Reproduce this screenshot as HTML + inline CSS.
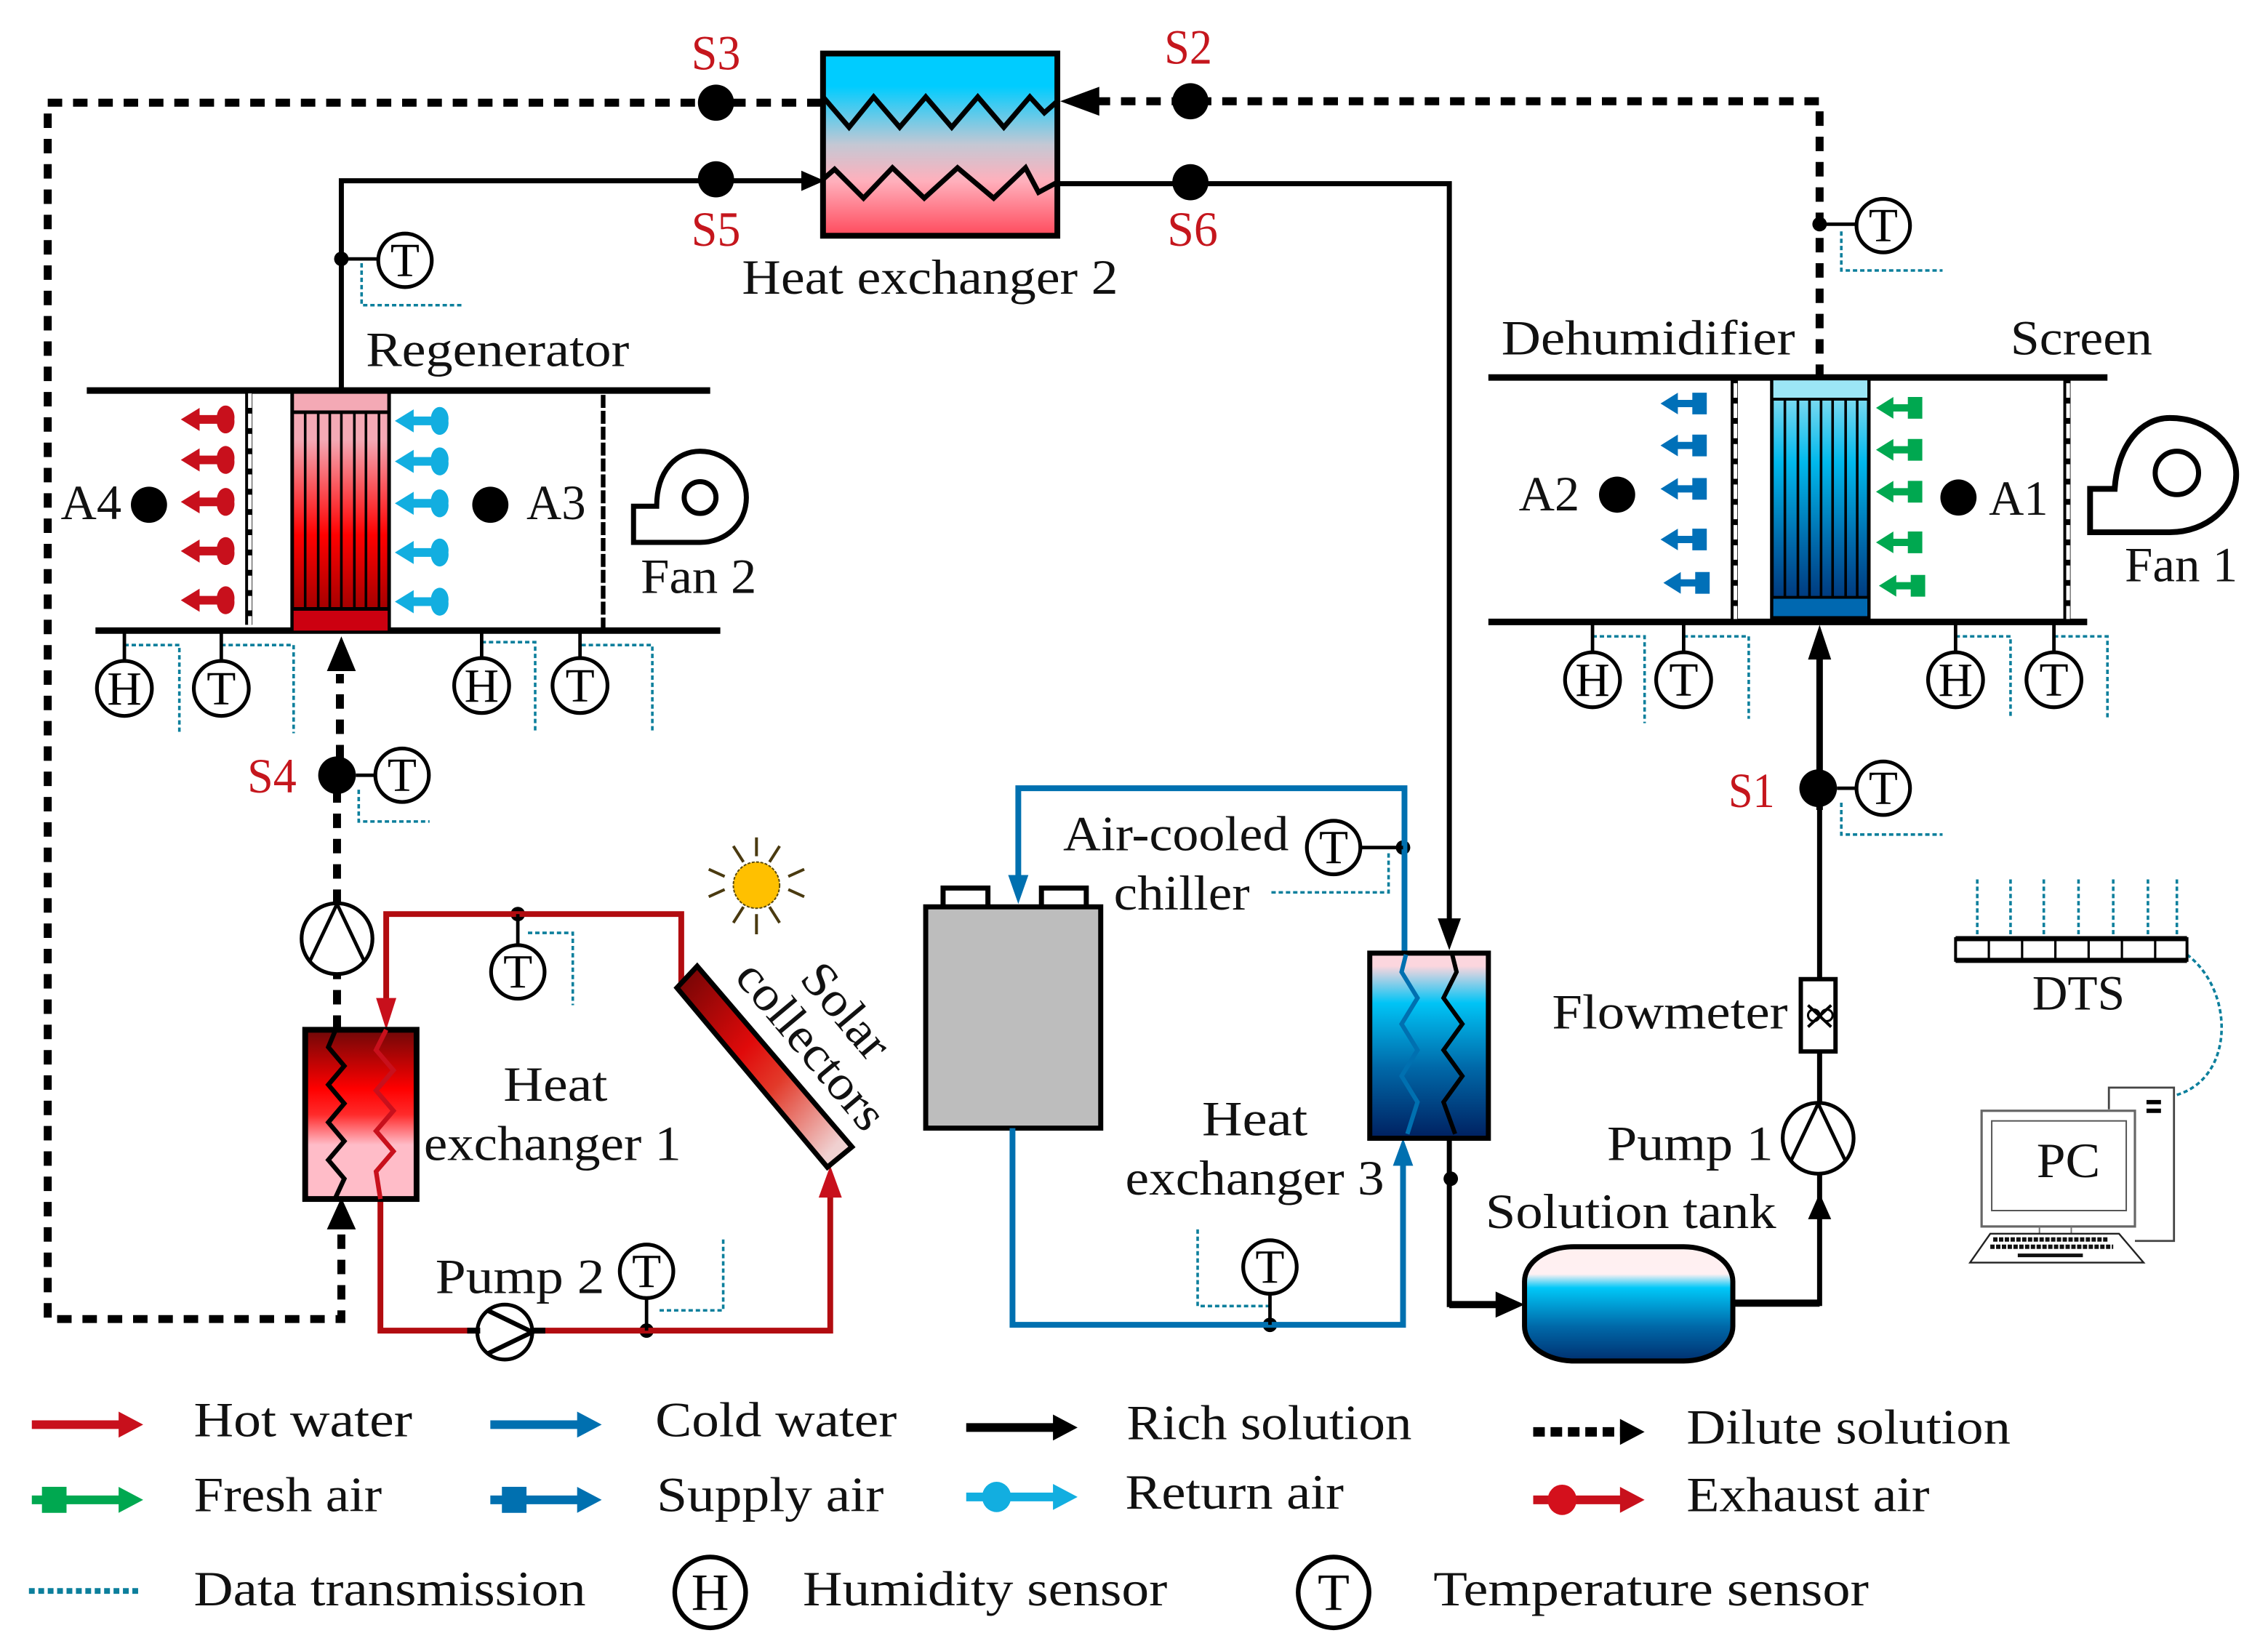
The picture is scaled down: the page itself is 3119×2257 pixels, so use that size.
<!DOCTYPE html>
<html><head><meta charset="utf-8"><title>Solar liquid desiccant system diagram</title>
<style>
html,body{margin:0;padding:0;background:#fff}
svg{display:block;width:3119px;height:2257px}
text{font-family:"Liberation Serif",serif;font-size:34px;fill:#111}
.r{fill:#c5161d}
.s{font-size:33px;text-anchor:middle;fill:#000}
.c{fill:#fff;stroke:#000;stroke-width:2.6}
.st{stroke:#000;stroke-width:2.4;fill:none}
.d{stroke:#0c7f9c;stroke-width:1.8;stroke-dasharray:3 2;fill:none}
.k{stroke:#000;fill:none;stroke-width:3.5}
.dl{stroke:#000;fill:none;stroke-width:5.5;stroke-dasharray:10 7.5}
.h{stroke:#b20c10;fill:none;stroke-width:4}
.b{stroke:#0070b0;fill:none;stroke-width:4}
</style></head><body>
<svg xmlns="http://www.w3.org/2000/svg" viewBox="0 0 1568 1134.6" preserveAspectRatio="none">
<defs>
<linearGradient id="hx2" x1="0" y1="0" x2="0" y2="1"><stop offset="0" stop-color="#00ccff"/><stop offset=".18" stop-color="#00ccff"/><stop offset=".5" stop-color="#c4c8d4"/><stop offset=".7" stop-color="#ffb0bc"/><stop offset="1" stop-color="#ff4a5c"/></linearGradient>
<linearGradient id="reg" x1="0" y1="0" x2="0" y2="1"><stop offset="0" stop-color="#f4a9b5"/><stop offset=".2" stop-color="#f4a9b5"/><stop offset=".6" stop-color="#ff0000"/><stop offset="1" stop-color="#8a0000"/></linearGradient>
<linearGradient id="deh" x1="0" y1="0" x2="0" y2="1"><stop offset="0" stop-color="#a0e4f2"/><stop offset=".35" stop-color="#00b8ec"/><stop offset=".7" stop-color="#0066a8"/><stop offset="1" stop-color="#002a70"/></linearGradient>
<linearGradient id="hx1" x1="0" y1="0" x2="0" y2="1"><stop offset="0" stop-color="#6e0808"/><stop offset=".35" stop-color="#ff0000"/><stop offset=".5" stop-color="#ff2a2a"/><stop offset=".68" stop-color="#ffbcc8"/><stop offset="1" stop-color="#ffbcc8"/></linearGradient>
<linearGradient id="hx3" x1="0" y1="0" x2="0" y2="1"><stop offset="0" stop-color="#fcd6de"/><stop offset=".07" stop-color="#fcd6de"/><stop offset=".27" stop-color="#00c4f6"/><stop offset=".62" stop-color="#0068a8"/><stop offset="1" stop-color="#002060"/></linearGradient>
<linearGradient id="tank" x1="0" y1="0" x2="0" y2="1"><stop offset="0" stop-color="#fff0f0"/><stop offset=".24" stop-color="#fff0f2"/><stop offset=".36" stop-color="#00c8f8"/><stop offset=".7" stop-color="#0068a8"/><stop offset="1" stop-color="#003070"/></linearGradient>
<linearGradient id="sol" x1="0" y1="0" x2="1" y2="1"><stop offset="0" stop-color="#6a0505"/><stop offset=".4" stop-color="#e00a0a"/><stop offset=".58" stop-color="#e23a2a"/><stop offset=".9" stop-color="#f0d0d0"/><stop offset="1" stop-color="#f0d6d6"/></linearGradient>
</defs>
<rect width="1568" height="1135" fill="#fff"/>

<!-- dilute solution loop -->
<path class="dl" d="M568 71H33V912H236V850"/>
<polygon points="236,828 226,850 246,850" fill="#000"/>
<path class="dl" d="M233 712V672"/>
<path class="dl" d="M233 625V545"/>
<path class="dl" d="M235 525V466"/>
<polygon points="236,440 226,464 246,464" fill="#000"/>
<path class="dl" d="M1258 262V70H745"/>
<polygon points="733,70 760,60 760,80" fill="#000"/>

<!-- rich solution -->
<path class="k" d="M236 270V125H560"/>
<polygon points="570,125 554,118 554,132" fill="#000"/>
<path class="k" d="M731 127H1002V640"/>
<polygon points="1002,657 994,635 1010,635" fill="#000"/>
<path class="k" d="M1002 787V902H1040"/>
<path d="M1002 902H1040" stroke="#000" stroke-width="5"/>
<polygon points="1054,902 1034,893 1034,911" fill="#000"/>
<path d="M1198 901H1258" stroke="#000" stroke-width="5" fill="none"/>
<polygon points="1258,825 1250,843 1266,843" fill="#000"/>
<path class="k" d="M1258 903V727M1258 677V450"/>
<path d="M1258 560V450" stroke="#000" stroke-width="4.5"/>
<polygon points="1258,432 1250,456 1266,456" fill="#000"/>

<!-- HX2 -->
<rect x="569" y="37" width="162" height="126" fill="url(#hx2)" stroke="#000" stroke-width="4"/>
<path d="M569 67L587 88L604 67L622 88L640 67L658 88L676 67L694 88L712 67L722 78L731 70" stroke="#000" stroke-width="3.5" fill="none"/>
<path d="M569 124L577 117L597 137L617 116L639 137L662 116L687 137L709 116L718 133L731 126" stroke="#000" stroke-width="3.5" fill="none"/>

<!-- S points -->
<g fill="#000">
<circle cx="495" cy="71" r="12.5"/><circle cx="495" cy="124" r="12.5"/><circle cx="823" cy="70" r="12.5"/><circle cx="823" cy="126" r="12.5"/>
<circle cx="233" cy="536" r="13"/><circle cx="1257" cy="545" r="13"/>
<circle cx="103" cy="349" r="12.5"/><circle cx="339" cy="349" r="12.5"/><circle cx="1118" cy="342" r="12.5"/><circle cx="1354" cy="344" r="12.5"/>
<circle cx="236" cy="179" r="5"/><circle cx="1258" cy="155" r="5"/><circle cx="358" cy="632" r="5"/><circle cx="447" cy="920" r="5"/><circle cx="970" cy="586" r="5"/><circle cx="878" cy="916" r="5"/><circle cx="1003" cy="815" r="5"/>
</g>

<!-- Regenerator duct -->
<path d="M60 270H491M66 436H498" stroke="#000" stroke-width="4.5"/>
<path d="M172 272V432" stroke="#000" stroke-width="5"/><path d="M172.8 272V432" stroke="#fff" stroke-width="2.6" stroke-dasharray="10 4"/>
<path d="M417 273V434" stroke="#000" stroke-width="3.2" stroke-dasharray="9 2"/>
<rect x="202" y="271" width="67" height="165" fill="url(#reg)" stroke="#000" stroke-width="2.5"/>
<rect x="203" y="422" width="65" height="14" fill="#cc0010"/>
<path d="M202 285H269M202 421H269" stroke="#000" stroke-width="2.5"/>
<path d="M211 285V421M220 285V421M228 285V421M236 285V421M245 285V421M253 285V421M262 285V421" stroke="#000" stroke-width="1.8"/>

<!-- Dehumidifier duct -->
<path d="M1029 261H1457M1029 430H1443" stroke="#000" stroke-width="4.5"/>
<path d="M1199 263V428" stroke="#000" stroke-width="5"/><path d="M1199.8 265V428" stroke="#fff" stroke-width="2.6" stroke-dasharray="10 4"/>
<path d="M1429 263V428" stroke="#000" stroke-width="5"/><path d="M1429.8 265V428" stroke="#fff" stroke-width="2.6" stroke-dasharray="10 4"/>
<rect x="1225" y="262" width="67" height="165" fill="url(#deh)" stroke="#000" stroke-width="2.5"/>
<rect x="1226" y="263" width="65" height="12" fill="#9ce6f6"/>
<rect x="1226" y="414" width="65" height="12" fill="#0068b0"/>
<path d="M1225 276H1292M1225 413H1292" stroke="#000" stroke-width="2"/>
<path d="M1234 276V413M1243 276V413M1251 276V413M1259 276V413M1267 276V413M1276 276V413M1284 276V413" stroke="#000" stroke-width="1.8"/>

<!-- Exhaust arrows -->
<g fill="#c8101c">
<path d="M125 290L138 282V287H150A6 8 0 0 1 162 290A6 8 0 0 1 150 293H138V298Z"/>
<path d="M125 318L138 310V315H150A6 8 0 0 1 162 318A6 8 0 0 1 150 321H138V326Z"/>
<path d="M125 347L138 339V344H150A6 8 0 0 1 162 347A6 8 0 0 1 150 350H138V355Z"/>
<path d="M125 381L138 373V378H150A6 8 0 0 1 162 381A6 8 0 0 1 150 384H138V389Z"/>
<path d="M125 415L138 407V412H150A6 8 0 0 1 162 415A6 8 0 0 1 150 418H138V423Z"/>
</g>
<g fill="#12aee0">
<path d="M273 291L286 283V288H298A6 8 0 0 1 310 291A6 8 0 0 1 298 294H286V299Z"/>
<path d="M273 319L286 311V316H298A6 8 0 0 1 310 319A6 8 0 0 1 298 322H286V327Z"/>
<path d="M273 348L286 340V345H298A6 8 0 0 1 310 348A6 8 0 0 1 298 351H286V356Z"/>
<path d="M273 382L286 374V379H298A6 8 0 0 1 310 382A6 8 0 0 1 298 385H286V390Z"/>
<path d="M273 416L286 408V413H298A6 8 0 0 1 310 416A6 8 0 0 1 298 419H286V424Z"/>
</g>
<g fill="#0070b8">
<path d="M1148 279L1160 271.5V276.500H1170V271.500H1180V286.500H1170V281.500H1160V286.500Z"/>
<path d="M1148 308L1160 300.500V305.500H1170V300.500H1180V315.500H1170V310.500H1160V315.500Z"/>
<path d="M1148 338L1160 330.500V335.500H1170V330.500H1180V345.500H1170V340.500H1160V345.500Z"/>
<path d="M1148 373L1160 365.500V370.500H1170V365.500H1180V380.500H1170V375.500H1160V380.500Z"/>
<path d="M1150 403L1162 395.500V400.500H1172V395.500H1182V410.500H1172V405.500H1162V410.500Z"/>
</g>
<g fill="#00a850">
<path d="M1297 282L1309 274.500V279.500H1319V274.500H1329V289.500H1319V284.500H1309V289.500Z"/>
<path d="M1297 311L1309 303.500V308.500H1319V303.500H1329V318.500H1319V313.500H1309V318.500Z"/>
<path d="M1297 340L1309 332.500V337.500H1319V332.500H1329V347.500H1319V342.500H1309V347.500Z"/>
<path d="M1297 375L1309 367.500V372.500H1319V367.500H1329V382.500H1319V377.500H1309V382.500Z"/>
<path d="M1299 405L1311 397.500V402.500H1321V397.500H1331V412.500H1321V407.500H1311V412.500Z"/>
</g>

<!-- Fans -->
<g fill="#fff" stroke="#000" stroke-width="3.5">
<path d="M438 375V350H454C454 325 468 312 484 312C503 312 516 328 516 344C516 362 502 375 484 375Z"/>
<circle cx="484" cy="344" r="11"/>
<path d="M1445 368V338H1462C1464 308 1480 289 1500 289C1528 289 1546 308 1546 328C1546 350 1526 368 1500 368Z" stroke-width="4"/>
<circle cx="1505" cy="327" r="15"/>
</g>

<!-- Data lines -->
<g class="d">
<path d="M250 182V211H321"/><path d="M86 446H124V507"/><path d="M153 446H203V507"/><path d="M333 444H370V505"/><path d="M402 446H451V505"/>
<path d="M248 546V568H297"/><path d="M1273 160V187H1343"/>
<path d="M1101 440H1137V500"/><path d="M1164 440H1209V497"/><path d="M1352 440H1390V497"/><path d="M1420 440H1457V497"/>
<path d="M1273 555V577H1343"/><path d="M960 590V617H878"/><path d="M828 850V903H878"/><path d="M365 645H396V695"/><path d="M500 857V906H455"/>
<path d="M1367 608V649M1390 608V649M1413 608V649M1437 608V649M1461 608V649M1485 608V649M1505 608V649"/>
<path d="M1512 660C1545 685 1545 745 1505 757"/>
</g>

<!-- Hot water loop -->
<path class="h" d="M267 695V632H471V682"/>
<polygon points="267,712 260,690 274,690" fill="#c8101c"/>
<path class="h" d="M263 829V920H574V825"/>
<polygon points="574,806 566,828 582,828" fill="#c8101c"/>

<!-- HX1 -->
<rect x="211" y="712" width="77" height="117" fill="url(#hx1)" stroke="#000" stroke-width="4"/>
<path d="M232 712L227 724L238 737L227 750L238 763L227 776L238 789L227 802L238 815L232 828" stroke="#000" stroke-width="3.2" fill="none"/>
<path d="M267 712L260 726L272 740L260 754L272 768L260 782L272 796L260 810L263 829" stroke="#c8101c" stroke-width="3.2" fill="none"/>

<!-- Solar collector -->
<polygon points="468,683 482,668 589,793 572,807" fill="url(#sol)" stroke="#000" stroke-width="3.5"/>

<!-- Sun -->
<circle cx="523" cy="612" r="16" fill="#ffc000" stroke="#5a4a10" stroke-width="1" stroke-dasharray="2 1"/>
<path d="M523 579V592M507 585L514 596M539 585L532 596M490 601L501 606M556 601L545 606M490 620L501 615M556 620L545 615M507 638L514 627M539 638L532 627M523 632V646" stroke="#4a3a10" stroke-width="2"/>

<!-- Chiller & cold loop -->
<rect x="652" y="614" width="31" height="14" fill="#fff" stroke="#000" stroke-width="3.5"/>
<rect x="720" y="614" width="31" height="14" fill="#fff" stroke="#000" stroke-width="3.5"/>
<rect x="640" y="627" width="121" height="153" fill="#bdbdbd" stroke="#000" stroke-width="3.5"/>
<path class="b" d="M704 610V545H971V664"/>
<polygon points="704,625 697,605 711,605" fill="#0070b0"/>
<path class="b" d="M700 780V916H970V800"/>
<polygon points="970,787 963,806 977,806" fill="#0070b0"/>

<!-- HX3 -->
<rect x="947" y="659" width="82" height="128" fill="url(#hx3)" stroke="#000" stroke-width="3.5"/>
<path d="M972 660L969 672L980 690L969 708L980 726L969 744L980 762L973 784" stroke="#0070b0" stroke-width="3" fill="none"/>
<path d="M1004 660L1007 672L998 690L1011 708L998 726L1011 744L998 762L1006 784" stroke="#000" stroke-width="3" fill="none"/>

<!-- Tank -->
<rect x="1054" y="862" width="144" height="79" rx="34" ry="24" fill="url(#tank)" stroke="#000" stroke-width="3.5"/>

<!-- Pumps -->
<g class="c">
<circle cx="233" cy="649" r="24.5"/><circle cx="1257" cy="787" r="24.5"/><circle cx="349" cy="921" r="19"/>
</g>
<path d="M233 625L214 665M233 625L252 665" class="st"/>
<path d="M1257 763L1238 803M1257 763L1276 803" class="st"/>
<path d="M337 906L368 921L337 936" stroke="#000" stroke-width="3.2" fill="none"/>
<path d="M323 920H332M368 920H377" stroke="#000" stroke-width="4"/>

<!-- Flowmeter -->
<rect x="1245" y="677" width="24" height="50" fill="#fff" stroke="#000" stroke-width="3"/>
<path d="M1250 695L1266 710M1250 710L1266 695" stroke="#000" stroke-width="2"/>
<circle cx="1254" cy="702" r="4" fill="none" stroke="#000" stroke-width="1.5"/><circle cx="1263" cy="702" r="4" fill="none" stroke="#000" stroke-width="1.5"/>

<!-- DTS -->
<rect x="1352" y="649" width="160" height="15" fill="#fff" stroke="#000" stroke-width="2"/>
<path d="M1352 649H1512M1352 664H1512" stroke="#000" stroke-width="3.5"/>
<path d="M1375 649V664M1398 649V664M1421 649V664M1444 649V664M1467 649V664M1490 649V664" stroke="#000" stroke-width="1.6"/>

<!-- PC -->
<path d="M1458 767V752H1503V858H1476" fill="#fff" stroke="#444" stroke-width="1.4"/>
<path d="M1484 762H1494M1484 768H1494" stroke="#000" stroke-width="3"/>
<rect x="1370" y="768" width="106" height="80" fill="#fff" stroke="#666" stroke-width="1.6"/>
<rect x="1377" y="775" width="93" height="62" fill="#fff" stroke="#555" stroke-width="1"/>
<path d="M1410 848V862M1432 848V862" stroke="#777" stroke-width="1"/>
<polygon points="1376,853 1465,853 1482,873 1362,873" fill="#fff" stroke="#222" stroke-width="1.2"/>
<path d="M1378 857H1458M1376 862H1461" stroke="#111" stroke-width="3" stroke-dasharray="3 1"/>
<path d="M1395 868H1440" stroke="#111" stroke-width="2.5"/>

<!-- Sensors -->
<g class="st">
<path d="M236 179H262M86 436V457M153 436V457M333 436V455M401 436V455M246 536H260M1258 155H1283M1101 430V451M1164 430V451M1352 430V451M1420 430V451M1270 545H1283M941 586H970M878 895V916M358 632V653M447 898V920"/>
</g>
<g class="c">
<circle cx="280" cy="180" r="18.5"/><circle cx="86" cy="476" r="19"/><circle cx="153" cy="476" r="19"/><circle cx="333" cy="474" r="19"/><circle cx="401" cy="474" r="19"/><circle cx="278" cy="536" r="18.5"/>
<circle cx="1302" cy="156" r="18.5"/><circle cx="1101" cy="470" r="19"/><circle cx="1164" cy="470" r="19"/><circle cx="1352" cy="470" r="19"/><circle cx="1420" cy="470" r="19"/><circle cx="1302" cy="545" r="18.5"/>
<circle cx="922" cy="586" r="18.5"/><circle cx="878" cy="876" r="18.5"/><circle cx="358" cy="672" r="18.5"/><circle cx="447" cy="879" r="18.5"/>
</g>
<text class="s" x="280" y="191">T</text><text class="s" x="86" y="487">H</text><text class="s" x="153" y="487">T</text><text class="s" x="333" y="485">H</text><text class="s" x="401" y="485">T</text><text class="s" x="278" y="547">T</text>
<text class="s" x="1302" y="167">T</text><text class="s" x="1101" y="481">H</text><text class="s" x="1164" y="481">T</text><text class="s" x="1352" y="481">H</text><text class="s" x="1420" y="481">T</text><text class="s" x="1302" y="556">T</text>
<text class="s" x="922" y="597">T</text><text class="s" x="878" y="887">T</text><text class="s" x="358" y="683">T</text><text class="s" x="447" y="890">T</text>

<!-- Labels -->
<text class="r" x="478" y="48" textLength="34" lengthAdjust="spacingAndGlyphs">S3</text>
<text class="r" x="805" y="44" textLength="33" lengthAdjust="spacingAndGlyphs">S2</text>
<text class="r" x="478" y="170" textLength="34" lengthAdjust="spacingAndGlyphs">S5</text>
<text class="r" x="807" y="170" textLength="35" lengthAdjust="spacingAndGlyphs">S6</text>
<text class="r" x="171" y="548" textLength="34" lengthAdjust="spacingAndGlyphs">S4</text>
<text class="r" x="1195" y="558" textLength="32" lengthAdjust="spacingAndGlyphs">S1</text>
<text x="513" y="203" textLength="260" lengthAdjust="spacingAndGlyphs">Heat exchanger 2</text>
<text x="253" y="253" textLength="182" lengthAdjust="spacingAndGlyphs">Regenerator</text>
<text x="42" y="359" textLength="42" lengthAdjust="spacingAndGlyphs">A4</text>
<text x="364" y="359" textLength="41" lengthAdjust="spacingAndGlyphs">A3</text>
<text x="443" y="410" textLength="80" lengthAdjust="spacingAndGlyphs">Fan 2</text>
<text x="1038" y="245" textLength="203" lengthAdjust="spacingAndGlyphs">Dehumidifier</text>
<text x="1390" y="245" textLength="98" lengthAdjust="spacingAndGlyphs">Screen</text>
<text x="1050" y="353" textLength="42" lengthAdjust="spacingAndGlyphs">A2</text>
<text x="1375" y="356" textLength="41" lengthAdjust="spacingAndGlyphs">A1</text>
<text x="1469" y="402" textLength="78" lengthAdjust="spacingAndGlyphs">Fan 1</text>
<text x="348" y="761" textLength="72" lengthAdjust="spacingAndGlyphs">Heat</text>
<text x="293" y="802" textLength="178" lengthAdjust="spacingAndGlyphs">exchanger 1</text>
<text x="301" y="894" textLength="117" lengthAdjust="spacingAndGlyphs">Pump 2</text>
<text x="735" y="588" textLength="156" lengthAdjust="spacingAndGlyphs">Air-cooled</text>
<text x="770" y="629" textLength="94" lengthAdjust="spacingAndGlyphs">chiller</text>
<text x="831" y="785" textLength="73" lengthAdjust="spacingAndGlyphs">Heat</text>
<text x="778" y="826" textLength="179" lengthAdjust="spacingAndGlyphs">exchanger 3</text>
<text x="1073" y="711" textLength="163" lengthAdjust="spacingAndGlyphs">Flowmeter</text>
<text x="1111" y="802" textLength="115" lengthAdjust="spacingAndGlyphs">Pump 1</text>
<text x="1027" y="849" textLength="201" lengthAdjust="spacingAndGlyphs">Solution tank</text>
<text x="1405" y="698" textLength="64" lengthAdjust="spacingAndGlyphs">DTS</text>
<text x="1408" y="814" textLength="44" lengthAdjust="spacingAndGlyphs">PC</text>
<text transform="translate(552,677) rotate(50)" textLength="76" lengthAdjust="spacingAndGlyphs">Solar</text>
<text transform="translate(507,676) rotate(50)" textLength="141" lengthAdjust="spacingAndGlyphs">collectors</text>

<!-- Legend -->
<path d="M22 985H84" stroke="#c8101c" stroke-width="6"/><polygon points="99,985 82,976 82,994" fill="#c8101c"/>
<path d="M339 985H401" stroke="#0070b0" stroke-width="6"/><polygon points="416,985 399,976 399,994" fill="#0070b0"/>
<path d="M668 987H730" stroke="#000" stroke-width="6"/><polygon points="745,987 728,978 728,996" fill="#000"/>
<path d="M1060 990H1122" stroke="#000" stroke-width="6.500" stroke-dasharray="8 4"/><polygon points="1137,990 1120,981 1120,999" fill="#000"/>
<path d="M22 1037H84" stroke="#00a850" stroke-width="6"/><polygon points="99,1037 82,1028 82,1046" fill="#00a850"/><rect x="29" y="1028" width="17" height="18" fill="#00a850"/>
<path d="M339 1037H401" stroke="#0070b0" stroke-width="6"/><polygon points="416,1037 399,1028 399,1046" fill="#0070b0"/><rect x="347" y="1028" width="17" height="18" fill="#0070b0"/>
<path d="M668 1035H730" stroke="#12aee0" stroke-width="6"/><polygon points="745,1035 728,1026 728,1044" fill="#12aee0"/><ellipse cx="689" cy="1035" rx="10" ry="10.500" fill="#12aee0"/>
<path d="M1060 1037H1122" stroke="#c8101c" stroke-width="6"/><polygon points="1137,1037 1120,1028 1120,1046" fill="#c8101c"/><ellipse cx="1080" cy="1037" rx="10" ry="10.500" fill="#d4101c"/>
<path d="M20 1100H98" stroke="#0c7f9c" stroke-width="4" stroke-dasharray="4 2.5"/>
<circle cx="491" cy="1101" r="24.5" fill="#fff" stroke="#000" stroke-width="3.2"/>
<circle cx="922" cy="1101" r="24.5" fill="#fff" stroke="#000" stroke-width="3.2"/>
<text class="s" x="491" y="1113" style="font-size:36px">H</text>
<text class="s" x="922" y="1113" style="font-size:36px">T</text>

<text x="134" y="993" textLength="151" lengthAdjust="spacingAndGlyphs">Hot water</text>
<text x="453" y="993" textLength="167" lengthAdjust="spacingAndGlyphs">Cold water</text>
<text x="779" y="995" textLength="197" lengthAdjust="spacingAndGlyphs">Rich solution</text>
<text x="1166" y="998" textLength="224" lengthAdjust="spacingAndGlyphs">Dilute solution</text>
<text x="134" y="1045" textLength="130" lengthAdjust="spacingAndGlyphs">Fresh air</text>
<text x="454" y="1045" textLength="157" lengthAdjust="spacingAndGlyphs">Supply air</text>
<text x="778" y="1043" textLength="151" lengthAdjust="spacingAndGlyphs">Return air</text>
<text x="1166" y="1045" textLength="168" lengthAdjust="spacingAndGlyphs">Exhaust air</text>
<text x="134" y="1110" textLength="271" lengthAdjust="spacingAndGlyphs">Data transmission</text>
<text x="555" y="1110" textLength="252" lengthAdjust="spacingAndGlyphs">Humidity sensor</text>
<text x="991" y="1110" textLength="301" lengthAdjust="spacingAndGlyphs">Temperature sensor</text>
</svg>
</body></html>
